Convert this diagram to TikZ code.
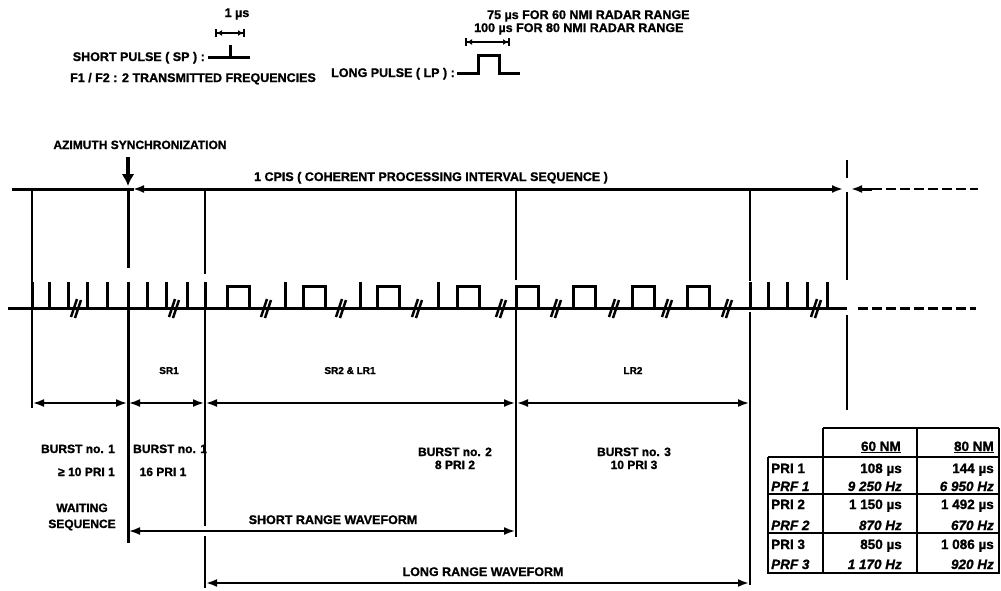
\documentclass[tikz,border=0pt]{standalone}
\usepackage{fontspec}
\setmainfont{Liberation Sans}[BoldFeatures={FakeBold=1.2},BoldItalicFeatures={FakeBold=1.2}]
\usetikzlibrary{arrows.meta}
\begin{document}
\begin{tikzpicture}[x=1pt,y=-1pt,
  >={Latex[length=11pt,width=8pt]},
  lab/.style={font=\bfseries\fontsize{12}{13}\selectfont,inner sep=0pt,anchor=base},
  hlab/.style={font=\bfseries\fontsize{12.5}{13}\selectfont,inner sep=0pt,anchor=base},
  smalllab/.style={font=\bfseries\fontsize{10}{11}\selectfont,inner sep=0pt,anchor=base},
  tab/.style={font=\bfseries\fontsize{13.5}{14}\selectfont,inner sep=0pt,anchor=base east},
  tabi/.style={font=\bfseries\itshape\fontsize{13.5}{14}\selectfont,inner sep=0pt,anchor=base east},
  sig/.style={line width=3pt,line join=miter},
  vline/.style={line width=2pt},
  thinv/.style={line width=1.5pt},
  dimline/.style={line width=1.8pt},
  smalldim/.style={line width=2pt,{Bar[width=8pt] Latex[length=5pt,width=6pt]}-{Latex[length=5pt,width=6pt] Bar[width=8pt]}},
  hashst/.style={line width=2.5pt},
  tline/.style={line width=2pt},
  dashst/.style={line width=2.5pt,dash pattern=on 10pt off 4pt}]
\useasboundingbox (0,0) rectangle (1001,590);

% ---------- header ----------
\node[hlab,anchor=base] (t1us) at (237,17) {1 µs};
\draw[smalldim] (215,33) -- (245,33);
\draw[sig] (208,57) -- (250,57);
\draw[sig] (230,57) -- (230,45);
\node[hlab,anchor=base east] (tsp) at (205,61) {SHORT PULSE ( SP ) :};
\node[hlab,anchor=base west] (tff) at (70,82) {F1 / F2 : 2 TRANSMITTED FREQUENCIES};

\node[hlab,anchor=base west] (t75) at (487,19) {75 µs FOR 60 NMI RADAR RANGE};
\node[hlab,anchor=base west] (t100) at (474,32) {100 µs FOR 80 NMI RADAR RANGE};
\draw[smalldim] (465,42) -- (510,42);
\draw[sig] (457,73) -- (478,73) -- (478,55) -- (499,55) -- (499,73) -- (520,73);
\node[hlab,anchor=base east] (tlp) at (455,77) {LONG PULSE ( LP ) :};

% ---------- azimuth / CPIS ----------
\node[lab] (taz) at (140,149) {AZIMUTH SYNCHRONIZATION};
\draw[line width=4pt,-{Latex[length=12pt,width=13pt]}] (128,157) -- (128,186);
\node[hlab] (tcpis) at (431,181) {1 CPIS ( COHERENT PROCESSING INTERVAL SEQUENCE )};
\draw[line width=3pt] (12,189) -- (134,189);
\draw[line width=3pt,<->] (133,189) -- (843,189);
\draw[line width=3pt,<-] (851,189) -- (872,189);
\draw[dashst] (872,189) -- (978,189);

% ---------- vertical markers ----------
\draw[line width=2.5pt] (32,189) -- (32,408);
\draw[line width=3pt] (128,189) -- (128,268);
\draw[line width=3pt] (128,308) -- (128,543);
\draw[vline] (205,189) -- (205,274);
\draw[vline] (205,308) -- (205,526);
\draw[vline] (205,536) -- (205,588);
\draw[thinv] (516,189) -- (516,280);
\draw[thinv] (516,308) -- (516,537);
\draw[thinv] (750,189) -- (750,281);
\draw[thinv] (750,312) -- (750,585);
\draw[vline] (847,160) -- (847,178);
\draw[vline] (847,192) -- (847,280);
\draw[vline] (847,315) -- (847,410);

% ---------- pulse train ----------
\draw[sig] (8,308) -- (847,308);
\draw[dashst,line width=3pt] (858,308) -- (976,308);
\foreach \x in {32,49,68,87,107,128,147,166,187,205,285,360,438,750,768,787,807,827}
  \draw[sig] (\x,308) -- (\x,282);
\foreach \x in {227,303,377,457,516,573,632,687}
  \draw[sig] (\x,308) -- (\x,286) -- (\x+22,286) -- (\x+22,308);
\foreach \x in {77,175,267,342,418,502,557,615,668,728,817} {
  \draw[hashst] (\x-6,317) -- (\x,299);
  \draw[hashst] (\x-2,318) -- (\x+4,300);
}

\node[smalllab] (tsr1) at (169,374) {SR1};
\node[smalllab] (tsr2) at (350,374) {SR2 \& LR1};
\node[smalllab] (tlr2) at (633,374) {LR2};

% ---------- burst dimension line ----------
\draw[dimline,<->] (33,403) -- (127,403);
\draw[dimline,<->] (129,403) -- (204,403);
\draw[dimline,<->] (206,403) -- (515,403);
\draw[dimline,<->] (517,403) -- (749,403);
\draw[vline] (516,396) -- (516,411);
\draw[vline] (750,396) -- (750,411);

\node[lab] (tb1a) at (78,453) {BURST no. 1};
\node[lab,anchor=base east] (tp1a) at (115,476) {≥ 10 PRI 1};
\node[lab] (twait) at (82,512) {WAITING};
\node[lab] (tseq) at (82,528) {SEQUENCE};
\node[lab,anchor=base west] (tb1b) at (133,453) {BURST no. 1};
\node[lab] (tp1b) at (163,476) {16 PRI 1};
\node[lab] (tb2) at (455,456) {BURST no. 2};
\node[lab] (tp2) at (455,469) {8 PRI 2};
\node[lab] (tb3) at (634,456) {BURST no. 3};
\node[lab] (tp3) at (634,469) {10 PRI 3};

% ---------- waveforms ----------
\node[hlab] (tsrw) at (333,524) {SHORT RANGE WAVEFORM};
\draw[dimline,<->] (129,531) -- (515,531);
\node[hlab] (tlrw) at (483,576) {LONG RANGE WAVEFORM};
\draw[line width=2.5pt,<->] (206,583) -- (749,583);

% ---------- table ----------
\draw[tline] (823,428) -- (999,428);
\draw[tline] (823,428) -- (823,574);
\draw[tline] (917,428) -- (917,574);
\draw[tline] (999,428) -- (999,574);
\draw[tline] (768,457) -- (768,574);
\draw[tline] (768,457) -- (999,457);
\draw[tline] (768,494) -- (999,494);
\draw[tline] (768,533) -- (999,533);
\draw[tline] (768,573) -- (999,573);

\node[tab] (h60) at (901,451) {\underline{60 NM}};
\node[tab] (h80) at (994,451) {\underline{80 NM}};

\node[tab,anchor=base west] (r1) at (771,473) {PRI 1};
\node[tabi,anchor=base west] (r2) at (771,491) {PRF 1};
\node[tab,anchor=base west] (r3) at (771,509) {PRI 2};
\node[tabi,anchor=base west] (r4) at (771,530) {PRF 2};
\node[tab,anchor=base west] (r5) at (771,549) {PRI 3};
\node[tabi,anchor=base west] (r6) at (771,569) {PRF 3};

\node[tab] (a1) at (902,473) {108 µs};
\node[tabi] (a2) at (902,491) {9 250 Hz};
\node[tab] (a3) at (902,509) {1 150 µs};
\node[tabi] (a4) at (902,530) {870 Hz};
\node[tab] (a5) at (902,549) {850 µs};
\node[tabi] (a6) at (902,569) {1 170 Hz};

\node[tab] (b1) at (994,473) {144 µs};
\node[tabi] (b2) at (994,491) {6 950 Hz};
\node[tab] (b3) at (994,509) {1 492 µs};
\node[tabi] (b4) at (994,530) {670 Hz};
\node[tab] (b5) at (994,549) {1 086 µs};
\node[tabi] (b6) at (994,569) {920 Hz};
\end{tikzpicture}
\end{document}
